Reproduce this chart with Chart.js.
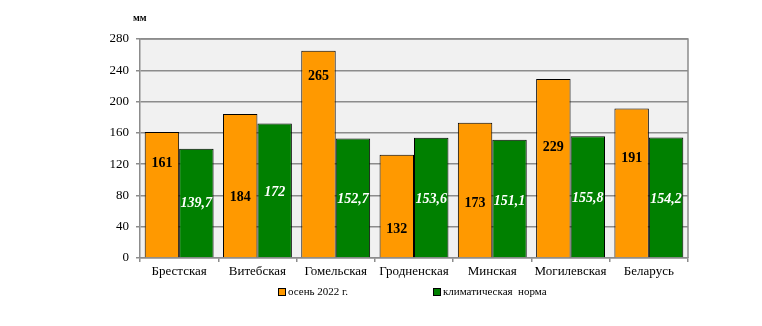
<!DOCTYPE html>
<html>
<head>
<meta charset="utf-8">
<script src="https://cdn.jsdelivr.net/npm/chart.js@4/dist/chart.umd.min.js"></script>
<style>
  html, body { margin: 0; padding: 0; background: #ffffff; }
  #wrap { width: 762px; height: 326px; position: relative; }
</style>
</head>
<body>
<div id="wrap"><canvas id="c" width="762" height="326"></canvas></div>
<script>
// Осадки за осень 2022 г. по областям в сравнении с климатической нормой, мм
const regions = ['Брестская', 'Витебская', 'Гомельская', 'Гродненская', 'Минская', 'Могилевская', 'Беларусь'];
const autumn2022 = [161, 184, 265, 132, 173, 229, 191];
const climateNorm = [139.7, 172, 152.7, 153.6, 151.1, 155.8, 154.2];
const seriesNames = ['осень 2022 г.', 'климатическая  норма'];
const yTicks = [0, 40, 80, 120, 160, 200, 240, 280];

// height (in mm on the value axis) at which each value label sits
const labelLevels = [
  [121, 78, 232, 36, 70, 142, 127],
  [70, 84, 75, 75, 73, 76, 75]
];

const SERIF = '"Liberation Serif", "Times New Roman", serif';

const plotFrame = {
  id: 'plotFrame',
  beforeDraw(chart) {
    const { ctx, chartArea: a } = chart;
    ctx.save();
    ctx.fillStyle = '#f1f1f1';
    ctx.fillRect(a.left, a.top, a.right - a.left, a.bottom - a.top);
    ctx.restore();
  },
  afterDatasetsDraw(chart) {
    const { ctx, chartArea: a } = chart;
    ctx.save();
    ctx.strokeStyle = '#8c8c8c';
    ctx.lineWidth = 1.5;
    ctx.beginPath();
    ctx.moveTo(a.left, a.top);
    ctx.lineTo(a.right, a.top);
    ctx.lineTo(a.right, a.bottom);
    ctx.stroke();
    ctx.restore();
  }
};

const valueLabels = {
  id: 'valueLabels',
  afterDatasetsDraw(chart) {
    const { ctx } = chart;
    const y = chart.scales.y;
    ctx.save();
    ctx.textAlign = 'center';
    ctx.textBaseline = 'middle';
    chart.data.datasets.forEach((ds, di) => {
      const meta = chart.getDatasetMeta(di);
      ctx.font = (di === 0 ? 'bold ' : 'italic bold ') + '14px ' + SERIF;
      ctx.fillStyle = di === 0 ? '#000000' : '#ffffff';
      meta.data.forEach((bar, i) => {
        const txt = String(ds.data[i]).replace('.', ',');
        ctx.fillText(txt, bar.x, y.getPixelForValue(labelLevels[di][i]));
      });
    });
    ctx.restore();
  }
};

const extras = {
  id: 'extras',
  afterDraw(chart) {
    const { ctx } = chart;
    ctx.save();
    // unit caption above the value axis
    ctx.font = 'bold 10px ' + SERIF;
    ctx.fillStyle = '#000';
    ctx.textAlign = 'left';
    ctx.textBaseline = 'middle';
    ctx.fillText('мм', 133, 18);
    // legend
    const items = [{ x: 278 }, { x: 433 }];
    ctx.font = '11px ' + SERIF;
    chart.data.datasets.forEach((ds, i) => {
      const bx = items[i].x, by = 288;
      ctx.fillStyle = ds.backgroundColor;
      ctx.fillRect(bx, by, 8, 8);
      ctx.strokeStyle = '#000';
      ctx.lineWidth = 1;
      ctx.strokeRect(bx + 0.5, by + 0.5, 7, 7);
      ctx.fillStyle = '#000';
      ctx.fillText(ds.label, bx + 10, by + 4.5);
    });
    ctx.restore();
  }
};

new Chart(document.getElementById('c'), {
  type: 'bar',
  data: {
    labels: regions,
    datasets: [
      { label: seriesNames[0], data: autumn2022, backgroundColor: '#ff9900', borderColor: '#000', borderWidth: 1 },
      { label: seriesNames[1], data: climateNorm, backgroundColor: '#008000', borderColor: '#000', borderWidth: 1 }
    ]
  },
  options: {
    responsive: false,
    animation: false,
    layout: { padding: { left: 0, right: 74, top: 39, bottom: 0 } },
    datasets: { bar: { categoryPercentage: 0.88, barPercentage: 1.0 } },
    plugins: {
      legend: { display: false },
      tooltip: { enabled: false }
    },
    scales: {
      x: {
        grid: { display: true, drawOnChartArea: false, offset: true, tickLength: 4, color: '#8c8c8c', lineWidth: 1.5 },
        border: { display: true, color: '#8c8c8c', width: 1.5 },
        ticks: { color: '#000', font: { family: SERIF, size: 13 }, padding: 2, maxRotation: 0 },
        afterFit(s) { s.height = 68; }
      },
      y: {
        min: 0, max: 280,
        afterBuildTicks(s) { s.ticks = yTicks.map(v => ({ value: v })); },
        grid: { color: '#8c8c8c', lineWidth: 1.5, tickLength: 4 },
        border: { display: true, color: '#8c8c8c', width: 1.5 },
        ticks: { color: '#000', font: { family: SERIF, size: 13 }, padding: 7 },
        afterFit(s) { s.width = 140; }
      }
    }
  },
  plugins: [plotFrame, valueLabels, extras]
});
</script>
</body>
</html>
